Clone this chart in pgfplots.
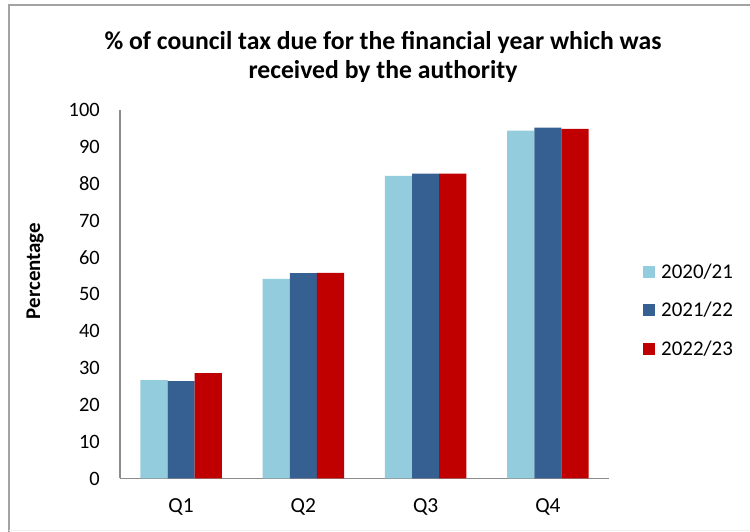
\documentclass[border=0pt]{standalone}
\usepackage{pgfplots}
\pgfplotsset{compat=1.18}
\usepackage{fontspec}
\setmainfont{Carlito}
\definecolor{c1}{HTML}{93CDDD}
\definecolor{c2}{HTML}{376092}
\definecolor{c3}{HTML}{C00000}
\definecolor{axgray}{HTML}{8C8C8C}
\begin{document}
\begin{tikzpicture}[x=1bp,y=1bp]
\useasboundingbox (0,0) rectangle (750,532);
\fill[white] (0,0) rectangle (750,532);
\draw[axgray!80, line width=1.5bp] (9,0) -- (9,527) -- (750,527);
\draw[gray!12, line width=1bp] (9,1) -- (750,1);
\node[font=\bfseries\fontsize{25.8}{30}\selectfont, align=center] at (383,475)
  {\% of council tax due for the financial year which was\\received by the authority};
\node[rotate=90, font=\bfseries\fontsize{21}{24}\selectfont] at (35,261) {Percentage};
\begin{axis}[
  scale only axis,
  width=489bp, height=368.5bp,
  at={(120bp,53.5bp)}, anchor=south west,
  xmin=-0.5, xmax=3.5, ymin=0, ymax=100,
  ybar=0pt, bar width=27.1bp,
  axis x line*=bottom, axis y line*=left,
  axis line style={draw=axgray, line width=1.2bp, -},
  major tick length=0pt,
  xtick={0,1,2,3}, xticklabels={Q1,Q2,Q3,Q4},
  ytick={0,10,...,100},
  /pgf/number format/assume math mode=true,
  tick label style={font=\fontsize{20.5}{24}\selectfont, inner sep=0pt},
  yticklabel style={anchor=east, xshift=-20bp},
  xticklabel style={anchor=center, yshift=-28bp, font=\fontsize{21.5}{24}\selectfont},
  legend style={draw=none, fill=none, inner sep=0pt,
    at={(1.0695,0.457)}, anchor=west, row sep=25.5bp, column sep=6bp,
    font=\fontsize{21}{24}\selectfont,
    nodes={inner sep=0pt, text height=13bp, text depth=0bp}},
  legend cell align=left,
  legend image code/.code={\fill[#1] (0bp,-6bp) rectangle (12bp,6bp);},
]
\addplot[fill=c1, draw=none] coordinates {(0,26.7) (1,54.2) (2,82.1) (3,94.4)};
\addplot[fill=c2, draw=none] coordinates {(0,26.4) (1,55.7) (2,82.7) (3,95.2)};
\addplot[fill=c3, draw=none] coordinates {(0,28.6) (1,55.8) (2,82.7) (3,94.9)};
\legend{2020/21,2021/22,2022/23}
\end{axis}
\end{tikzpicture}
\end{document}
